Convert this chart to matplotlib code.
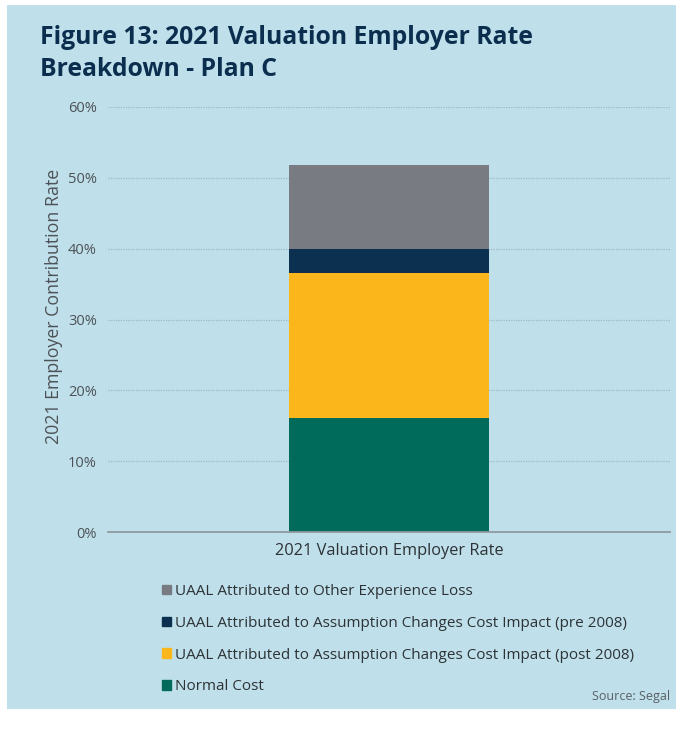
import numpy as np
import matplotlib.pyplot as plt
from matplotlib.patches import Rectangle, Patch

plt.rcParams['font.family'] = ['Open Sans', 'DejaVu Sans']

# data
category = ['2021 Valuation Employer Rate']
components = ['Normal Cost',
              'UAAL Attributed to Assumption Changes Cost Impact (post 2008)',
              'UAAL Attributed to Assumption Changes Cost Impact (pre 2008)',
              'UAAL Attributed to Other Experience Loss']
values = [0.161, 0.205, 0.033, 0.119]
colors = ['#006b5b', '#fbb61b', '#0b3050', '#787b82']
yticks = [0, 0.1, 0.2, 0.3, 0.4, 0.5, 0.6]

W, H = 686, 729
fig = plt.figure(figsize=(W / 100, H / 100), dpi=100)
fig.patch.set_facecolor('white')

bg = '#bfe0ea'
fig.patches.append(Rectangle((7 / W, 1 - 709 / H), 669 / W, 704 / H,
                             transform=fig.transFigure, facecolor=bg,
                             edgecolor='none', zorder=-5))

# title
fig.text(40 / W, 1 - 25 / H, 'Figure 13: 2021 Valuation Employer Rate\nBreakdown - Plan C',
         fontsize=17.8, fontweight='bold', color='#0b2e4f', va='top',
         linespacing=1.38)

ax = fig.add_axes([108 / W, 1 - 532 / H, 562 / W, 425 / H])
ax.set_zorder(2)
ax.patch.set_alpha(0)

bottom = 0
for v, c, lab in zip(values, colors, components):
    ax.bar(category, [v], width=0.356, bottom=bottom, color=c, label=lab, zorder=3)
    bottom += v

ax.set_xlim(-0.5, 0.5)
ax.set_ylim(0, 0.6)
ax.set_yticks(yticks)
ax.set_yticklabels(['{:.0f}%'.format(t * 100) for t in yticks])
ax.yaxis.grid(True, linestyle=(0, (1, 1)), color='#9fb9c3', linewidth=0.9, zorder=0)
ax.tick_params(axis='y', length=0, labelsize=10.5, colors='#4d5257', pad=8)
ax.tick_params(axis='x', length=0, labelsize=11.8, colors='#2d3236', pad=8)
for s in ['top', 'right', 'left']:
    ax.spines[s].set_visible(False)
ax.spines['bottom'].set_color('#8f9aa0')
ax.spines['bottom'].set_linewidth(1.3)
ax.spines['bottom'].set_zorder(4)
ax.set_ylabel('2021 Employer Contribution Rate', fontsize=12.8, color='#4d5257')
ax.yaxis.set_label_coords(-0.08, 0.53)

# legend, top item first
handles = [Patch(color=c) for c in colors][::-1]
labels = components[::-1]
fig.legend(handles, labels, loc='upper left', bbox_to_anchor=(162 / W, 1 - 584 / H),
           frameon=False, fontsize=11, handlelength=0.6, handleheight=0.6,
           handletextpad=0.25, labelspacing=1.1, borderaxespad=0, borderpad=0,
           labelcolor='#2d3236')

fig.text(670 / W, 1 - 700 / H, 'Source: Segal', fontsize=9, color='#5a6066', ha='right')

fig.savefig('out.png', dpi=100, facecolor='white')
